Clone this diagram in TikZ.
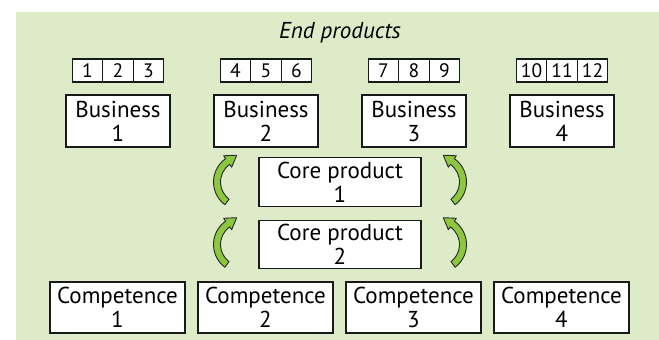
\documentclass[tikz,border=0pt]{standalone}
\usepackage{fontspec}
\setmainfont{PT Sans}
\usetikzlibrary{positioning,calc}
\definecolor{bggreen}{RGB}{222,235,201}
\definecolor{arrowgreen}{RGB}{141,198,63}

\begin{document}
\begin{tikzpicture}[
  x=1pt, y=1pt,
  font=\fontsize{23}{24}\selectfont,
  box/.style={draw=black!90, line width=1.2pt, fill=white, align=center, inner sep=0pt, outer sep=0pt},
  business/.style={box, minimum width=104pt, minimum height=52pt},
  numcell/.style={box, minimum width=30.5pt, minimum height=23pt, font=\fontsize{19.5}{20}\selectfont},
  core/.style={box, minimum width=162pt, minimum height=48.5pt},
  competence/.style={box, minimum width=135pt, minimum height=51pt},
  curl/.pic={
    \filldraw[fill=arrowgreen, draw=black!85, line width=0.9pt, line join=round]
      (233:28.5) arc[start angle=233, end angle=125, radius=28.5]
      -- (125:32) -- ($(125:25)+(35:11)$) -- (125:18) -- (125:21.5)
      arc[start angle=125, end angle=233, radius=21.5] -- cycle;
  }
]
\useasboundingbox (0,0) rectangle (659,340);
\fill[bggreen] (16,0) rectangle (659,328);

\node[font=\fontsize{23}{24}\selectfont\itshape] (title) at (340,307) {End products};

\node[business] (bus1) at (118,219) {Business\\1};
\node[business, right=44pt of bus1] (bus2) {Business\\2};
\node[business, right=44pt of bus2] (bus3) {Business\\3};
\node[business, right=44pt of bus3] (bus4) {Business\\4};

\foreach \i in {1,...,4} {
  \pgfmathtruncatemacro\m{3*\i-1}
  \pgfmathtruncatemacro\l{\m-1}
  \pgfmathtruncatemacro\r{\m+1}
  \node[numcell, above=13pt of bus\i] (num\m) {\m};
  \node[numcell, left=0pt of num\m] (num\l) {\l};
  \node[numcell, right=0pt of num\m] (num\r) {\r};
}

\node[core] (core1) at (340,158) {Core product\\1};
\node[core, below=14pt of core1] (core2) {Core product\\2};

\node[competence] (comp1) at (117.5,32.5) {Competence\\1};
\node[competence, right=13pt of comp1] (comp2) {Competence\\2};
\node[competence, right=13pt of comp2] (comp3) {Competence\\3};
\node[competence, right=13pt of comp3] (comp4) {Competence\\4};

\pic at ([xshift=-17pt]core1.west) {curl};
\pic at ([xshift=-17pt]core2.west) {curl};
\pic[xscale=-1] at ([xshift=17pt]core1.east) {curl};
\pic[xscale=-1] at ([xshift=17pt]core2.east) {curl};
\end{tikzpicture}
\end{document}
